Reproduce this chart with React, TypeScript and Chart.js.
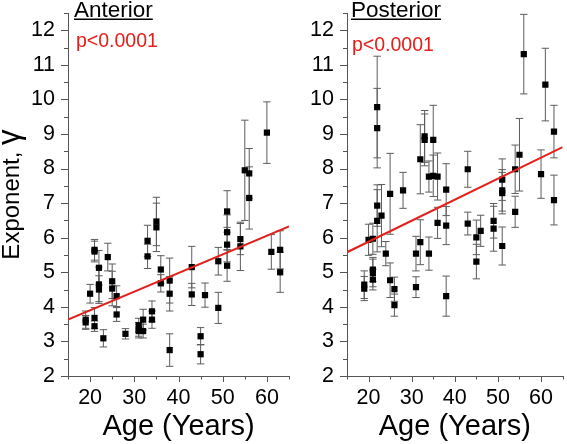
import React, { useEffect, useRef } from 'react';
import { Chart, registerables } from 'chart.js';

Chart.register(...registerables);

const FONT = '"Liberation Sans", Arial, Helvetica, sans-serif';
const RED = '#e3201b';
const AXIS = '#555555';

const X_MIN = 15;
const X_MAX = 65;
const Y_MIN = 2;
const Y_MAX = 12.5;
const xTickLabels = [20, 30, 40, 50, 60];
const yTickLabels = [2, 3, 4, 5, 6, 7, 8, 9, 10, 11, 12];

// Anterior
const antAge = [19, 19, 20, 21, 21, 21, 21, 22, 22, 22, 23, 24, 25, 25, 26, 26, 28, 31, 31, 31, 32, 32, 33, 33, 34, 34, 35, 35, 36, 36, 38, 38, 38, 43, 43, 45, 45, 46, 49, 49, 51, 51, 51, 51, 54, 54, 55, 56, 56, 60, 61, 63, 63];
const antVal = [3.63, 3.55, 4.38, 5.65, 5.6, 3.68, 3.44, 5.13, 4.65, 4.5, 3.09, 5.44, 4.74, 4.53, 4.31, 3.78, 3.22, 3.47, 3.35, 3.3, 3.63, 3.3, 5.91, 5.46, 3.87, 3.63, 6.47, 6.3, 5.08, 4.68, 4.76, 4.38, 2.75, 5.15, 4.36, 3.15, 2.63, 4.34, 5.32, 3.97, 6.76, 6.16, 5.8, 5.19, 5.96, 5.75, 7.95, 7.86, 7.15, 9.04, 5.59, 5.65, 5.0];
const antErr = [0.25, 0.2, 0.27, 0.3, 0.3, 0.3, 0.15, 0.5, 0.5, 0.4, 0.25, 0.4, 0.5, 0.5, 0.3, 0.2, 0.15, 0.2, 0.2, 0.2, 0.3, 0.2, 0.45, 0.35, 0.3, 0.25, 0.7, 0.7, 0.4, 0.25, 0.65, 0.5, 0.47, 0.6, 0.32, 0.25, 0.28, 0.35, 0.4, 0.45, 0.6, 0.5, 0.5, 0.45, 0.45, 0.7, 1.45, 0.72, 0.9, 0.89, 0.5, 0.55, 0.58];
const antFitX = [15, 65];
const antFitY = [3.63, 6.33];

// Posterior
const postAge = [19, 19, 20, 21, 21, 21, 21, 22, 22, 22, 22, 23, 24, 25, 25, 26, 26, 28, 31, 31, 32, 32, 33, 33, 34, 34, 35, 35, 36, 36, 38, 38, 38, 43, 43, 45, 45, 46, 49, 49, 51, 51, 51, 51, 54, 54, 55, 56, 60, 61, 63, 63];
const postVal = [4.64, 4.53, 5.94, 5.97, 5.08, 4.98, 4.79, 9.78, 9.17, 6.93, 6.49, 6.64, 5.54, 7.27, 4.77, 4.51, 4.05, 7.37, 5.54, 4.57, 8.27, 5.87, 8.93, 8.83, 7.77, 5.54, 8.83, 7.79, 7.77, 6.43, 7.39, 6.35, 4.31, 7.98, 6.41, 6.01, 5.31, 6.2, 6.49, 6.26, 7.68, 7.37, 7.29, 5.76, 7.98, 6.75, 8.4, 11.31, 7.84, 10.43, 9.07, 7.09];
const postErr = [0.4, 0.35, 0.45, 0.45, 0.35, 0.4, 0.3, 1.47, 1.15, 0.6, 0.9, 0.9, 0.35, 1.17, 0.5, 0.35, 0.32, 0.52, 0.5, 0.3, 1.0, 0.65, 0.75, 0.75, 0.45, 0.48, 1.0, 0.6, 0.68, 0.45, 0.75, 0.55, 0.58, 0.52, 0.33, 0.5, 0.5, 0.45, 0.5, 0.65, 0.6, 0.6, 0.6, 0.55, 0.7, 0.45, 1.05, 1.15, 0.7, 1.05, 0.76, 0.72];
const postFitX = [15, 65];
const postFitY = [5.58, 8.62];

const errorBarPlugin = {
  id: 'errorBars',
  beforeDatasetsDraw(chart: any) {
    const { ctx, scales } = chart;
    const xs = scales.x;
    const ys = scales.y;
    chart.data.datasets.forEach((ds: any) => {
      if (!ds.errorBars) return;
      ctx.save();
      ctx.strokeStyle = '#5c5c5c';
      ctx.lineWidth = 1;
      ctx.beginPath();
      ds.data.forEach((p: any, i: number) => {
        const e = ds.errorBars[i];
        const px = xs.getPixelForValue(p.x);
        const top = ys.getPixelForValue(p.y + e);
        const bot = ys.getPixelForValue(p.y - e);
        ctx.moveTo(px, top);
        ctx.lineTo(px, bot);
        ctx.moveTo(px - 3.7, top);
        ctx.lineTo(px + 3.7, top);
        ctx.moveTo(px - 3.7, bot);
        ctx.lineTo(px + 3.7, bot);
      });
      ctx.stroke();
      ctx.restore();
    });
  },
};

const axisTicksPlugin = {
  id: 'axisTicks',
  afterDraw(chart: any) {
    const { ctx, chartArea, scales } = chart;
    const xs = scales.x;
    const ys = scales.y;
    ctx.save();
    ctx.strokeStyle = AXIS;
    ctx.lineWidth = 1;
    ctx.beginPath();
    for (let v = X_MIN; v <= X_MAX + 1e-9; v += 5) {
      const px = Math.round(xs.getPixelForValue(v)) + 0.5;
      const len = v % 10 === 0 ? 6 : 3.5;
      ctx.moveTo(px, chartArea.bottom);
      ctx.lineTo(px, chartArea.bottom + len);
    }
    for (let v = Y_MIN; v <= Y_MAX + 1e-9; v += 0.5) {
      const py = Math.round(ys.getPixelForValue(v)) + 0.5;
      const len = Number.isInteger(v) ? 7 : 4;
      ctx.moveTo(chartArea.left, py);
      ctx.lineTo(chartArea.left - len, py);
    }
    ctx.stroke();
    ctx.restore();
  },
};

const panelTextPlugin = {
  id: 'panelText',
  afterDraw(chart: any, _args: any, opts: any) {
    const { ctx, chartArea } = chart;
    ctx.save();
    ctx.textAlign = 'left';
    ctx.textBaseline = 'alphabetic';
    ctx.fillStyle = '#000';
    ctx.font = `22.5px ${FONT}`;
    const tx = chartArea.left + opts.titleDx;
    ctx.fillText(opts.title, tx, opts.titleBaseline);
    const w = ctx.measureText(opts.title).width;
    ctx.fillRect(tx, opts.titleBaseline + 2, w, 1.5);
    ctx.fillStyle = RED;
    ctx.font = `19.5px ${FONT}`;
    ctx.fillText(opts.pText, chartArea.left + opts.pDx, opts.pBaseline);
    if (opts.yTitle) {
      const cy = (chartArea.top + chartArea.bottom) / 2;
      ctx.fillStyle = '#000';
      ctx.translate(opts.yTitleBaselineX, cy);
      ctx.rotate(-Math.PI / 2);
      ctx.font = `24px ${FONT}`;
      const w1 = ctx.measureText(opts.yTitle).width;
      ctx.font = `31px ${FONT}`;
      const w2 = ctx.measureText(opts.yTitleSym).width;
      const start = -(w1 + w2) / 2;
      ctx.font = `24px ${FONT}`;
      ctx.fillText(opts.yTitle, start, 0);
      ctx.font = `31px ${FONT}`;
      ctx.fillText(opts.yTitleSym, start + w1, 0);
    }
    ctx.restore();
  },
};

type PanelProps = {
  left: number;
  width: number;
  yAxisWidth: number;
  padRight: number;
  title: string;
  titleDx: number;
  pDx: number;
  pBaseline: number;
  ages: number[];
  vals: number[];
  errs: number[];
  fitX: number[];
  fitY: number[];
  showYTitle: boolean;
};

function Panel(props: PanelProps) {
  const ref = useRef<HTMLCanvasElement | null>(null);
  useEffect(() => {
    if (!ref.current) return;
    const pts = props.ages.map((a, i) => ({ x: a, y: props.vals[i] }));
    const fit = props.fitX.map((a, i) => ({ x: a, y: props.fitY[i] }));
    const chart = new Chart(ref.current, {
      type: 'scatter',
      data: {
        datasets: [
          {
            type: 'line',
            data: fit,
            borderColor: RED,
            borderWidth: 2,
            pointRadius: 0,
            fill: false,
            order: 0,
          } as any,
          {
            type: 'scatter',
            data: pts,
            errorBars: props.errs,
            pointStyle: 'rect',
            pointRadius: 4.4,
            pointBackgroundColor: '#000',
            pointBorderWidth: 0,
            order: 1,
          } as any,
        ],
      },
      options: {
        animation: false,
        responsive: false,
        events: [],
        layout: { padding: { top: 13, right: props.padRight, left: 0, bottom: 0 } },
        plugins: {
          legend: { display: false },
          tooltip: { enabled: false },
          panelText: {
            title: props.title,
            titleDx: props.titleDx,
            titleBaseline: 16.5,
            pText: 'p<0.0001',
            pDx: props.pDx,
            pBaseline: props.pBaseline,
            yTitle: props.showYTitle ? 'Exponent, ' : '',
            yTitleSym: 'γ',
            yTitleBaselineX: 19,
          },
        } as any,
        scales: {
          x: {
            type: 'linear',
            min: X_MIN,
            max: X_MAX,
            afterBuildTicks: (s: any) => {
              s.ticks = xTickLabels.map((v) => ({ value: v }));
            },
            afterFit: (s: any) => {
              s.height = 68;
              s.paddingLeft = 0;
              s.paddingRight = 0;
            },
            grid: { display: false, drawTicks: false },
            border: { display: true, color: AXIS, width: 1 },
            ticks: {
              padding: 9,
              color: '#000',
              maxRotation: 0,
              autoSkip: false,
              font: { family: FONT, size: 21.5 },
            },
            title: {
              display: true,
              text: 'Age (Years)',
              color: '#000',
              font: { family: FONT, size: 29 },
              padding: { top: 0, bottom: 0 },
            },
          },
          y: {
            type: 'linear',
            min: Y_MIN,
            max: Y_MAX,
            afterBuildTicks: (s: any) => {
              s.ticks = yTickLabels.map((v) => ({ value: v }));
            },
            afterFit: (s: any) => {
              s.width = props.yAxisWidth;
              s.paddingTop = 0;
              s.paddingBottom = 0;
            },
            grid: { display: false, drawTicks: false },
            border: { display: true, color: AXIS, width: 1 },
            ticks: {
              padding: 13,
              color: '#000',
              autoSkip: false,
              font: { family: FONT, size: 21.5 },
            },
          },
        } as any,
      },
      plugins: [errorBarPlugin, axisTicksPlugin, panelTextPlugin],
    });
    return () => chart.destroy();
  }, []);
  return (
    <canvas
      ref={ref}
      width={props.width}
      height={444}
      style={{ position: 'absolute', left: props.left, top: 0 }}
    />
  );
}

export default function App() {
  return (
    <div
      style={{
        position: 'fixed',
        left: 0,
        top: 0,
        width: 567,
        height: 444,
        background: '#fff',
        overflow: 'hidden',
      }}
    >
      <Panel
        left={0}
        width={300}
        yAxisWidth={68}
        padRight={11}
        title="Anterior"
        titleDx={6}
        pDx={8}
        pBaseline={46.5}
        ages={antAge}
        vals={antVal}
        errs={antErr}
        fitX={antFitX}
        fitY={antFitY}
        showYTitle={true}
      />
      <Panel
        left={300}
        width={267}
        yAxisWidth={47}
        padRight={0}
        title="Posterior"
        titleDx={4}
        pDx={5}
        pBaseline={50.5}
        ages={postAge}
        vals={postVal}
        errs={postErr}
        fitX={postFitX}
        fitY={postFitY}
        showYTitle={false}
      />
    </div>
  );
}
